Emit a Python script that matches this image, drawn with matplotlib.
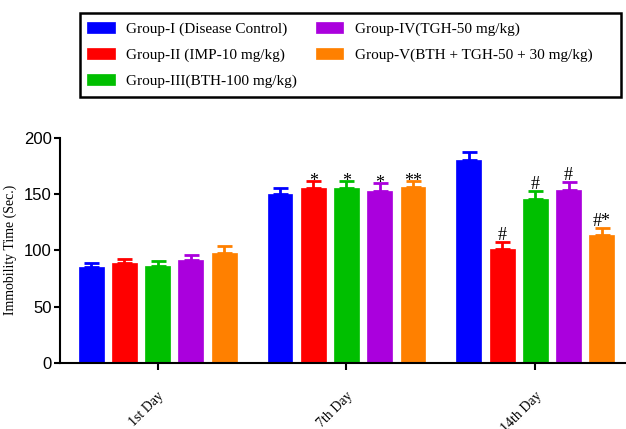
import numpy as np
import matplotlib.pyplot as plt
from matplotlib.patches import Rectangle

# Immobility time per day and group
days = ["1st Day", "7th Day", "14th Day"]
groups = [
    "Group-I (Disease Control)",
    "Group-II (IMP-10 mg/kg)",
    "Group-III(BTH-100 mg/kg)",
    "Group-IV(TGH-50 mg/kg)",
    "Group-V(BTH + TGH-50 + 30 mg/kg)",
]
colors = ["#0000FF", "#FF0000", "#00BF00", "#AA00DD", "#FF8000"]

means = [
    [85, 150, 180],   # Group-I
    [88.5, 155, 101],  # Group-II
    [86.5, 155.5, 145.5],  # Group-III
    [91, 153, 154],   # Group-IV
    [98, 156.5, 114],  # Group-V
]
sems = [
    [4, 5, 7],
    [4, 6.5, 6],
    [4, 6, 7],
    [5, 7, 7],
    [5.5, 5, 5.5],
]
marks = [
    ["", "", ""],
    ["", "*", "#"],
    ["", "*", "#"],
    ["", "*", "#"],
    ["", "**", "#*"],
]

serif = "Liberation Serif"
sans = "Liberation Sans"

fig = plt.figure(figsize=(6.26, 4.29), dpi=100)
ax = fig.add_axes([60 / 626, 66 / 429, 566 / 626, (363 - 137.7) / 429])

x = np.arange(len(days))
pitch = 0.176
width = 0.132
handles = []
for i in range(len(groups)):
    pos = x + (i - 2) * pitch
    b = ax.bar(pos, means[i], width, color=colors[i], edgecolor=colors[i],
               linewidth=0.5, label=groups[i], zorder=2)
    handles.append(b)
    ax.errorbar(pos, means[i], yerr=[np.zeros(3), sems[i]], fmt="none",
                ecolor=colors[i], elinewidth=2, capsize=5.4, capthick=2, zorder=1)
    for j in range(len(days)):
        m = marks[i][j]
        if m:
            dy = 1.5 if m.startswith("#") else -3.5
            ax.annotate(m, (pos[j], means[i][j] + sems[i][j]),
                        xytext=(0, dy), textcoords="offset points",
                        ha="center", va="baseline", fontsize=13, family=serif)

ax.set_xlim(-0.517, 2.48)
ax.set_ylim(0, 200)
ax.set_yticks([0, 50, 100, 150, 200])
ax.set_xticks(x)
ax.set_xticklabels(days, rotation=45, ha="right", va="top",
                   rotation_mode="anchor", fontsize=10, family=serif)
ax.tick_params(axis="y", labelsize=12, width=1.5, length=4, pad=2)
ax.tick_params(axis="x", width=1.5, length=5, pad=14)
for lab in ax.get_yticklabels():
    lab.set_family(sans)
ax.spines["top"].set_visible(False)
ax.spines["right"].set_visible(False)
ax.spines["left"].set_linewidth(1.5)
ax.spines["bottom"].set_linewidth(1.5)
ax.set_ylabel("Immobility Time (Sec.)", fontsize=10, family=serif, labelpad=5)

# legend box drawn separately so its width can match the original
fig.patches.append(Rectangle((80 / 626, 1 - 97 / 429), 541 / 626, 84 / 429,
                             transform=fig.transFigure, fill=False,
                             edgecolor="black", linewidth=1.8))
leg = fig.legend(handles=handles, loc="upper left",
                 bbox_to_anchor=(87 / 626, 1 - 22 / 429),
                 ncol=2, borderaxespad=0, borderpad=0, frameon=False,
                 prop={"family": serif, "size": 11},
                 handlelength=1.8, handleheight=0.75, handletextpad=0.75,
                 labelspacing=0.78, columnspacing=1.25)

fig.savefig("out.png", dpi=100)
